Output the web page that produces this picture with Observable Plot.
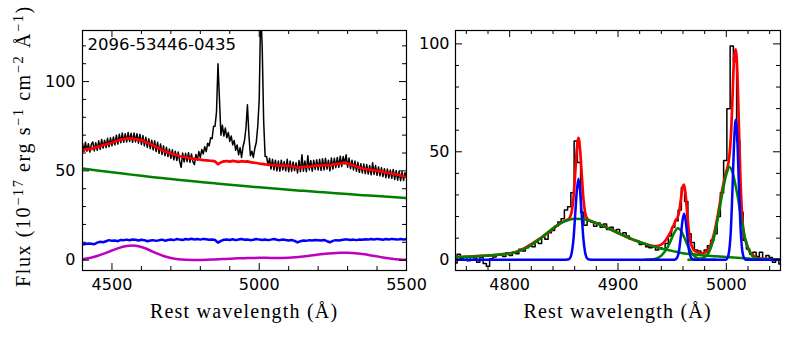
<!DOCTYPE html>
<html>
<head>
<meta charset="utf-8">
<script src="https://cdn.jsdelivr.net/npm/d3@7"></script>
<script src="https://cdn.jsdelivr.net/npm/@observablehq/plot@0.6"></script>
<style>
html,body{margin:0;padding:0;background:#fff;}
#wrap{position:relative;width:790px;height:337px;overflow:hidden;background:#fff;}
#wrap svg{position:absolute;top:0;max-width:none;}
.serif{position:absolute;left:0;top:0;font-family:"Liberation Serif",serif;color:#000;white-space:nowrap;line-height:1;font-size:20px;}
.xlab{letter-spacing:1.2px;}
.ylab{letter-spacing:1.6px;transform-origin:0 0;}
.sp{position:relative;top:-0.5em;font-size:0.72em;}
</style>
</head>
<body>
<div id="wrap"></div>
<script>
// ---------------- data ----------------
const specId = "2096-53446-0435";

// Left panel: observed spectrum, sampled every 5 Å from 4400 to 5500
const lamLeft = d3.range(4400, 5500.1, 5);
const fluxLeft = [
  65.5,60.8,66.0,61.0,65.2,60.5,64.8,66.2,61.2,65.8,
  61.5,66.8,62.0,67.5,62.8,67.2,63.0,68.2,63.5,68.5,
  64.0,69.0,64.5,70.0,65.0,70.5,65.8,71.2,66.0,70.8,
  66.2,71.5,66.5,71.0,66.0,71.2,66.2,70.8,65.5,70.5,
  64.8,69.8,64.0,68.8,63.2,68.0,62.5,67.2,61.8,66.8,
  60.8,66.0,59.8,65.0,59.2,64.0,58.5,63.2,58.0,62.2,
  57.0,61.8,56.2,61.0,55.8,60.5,55.2,52.0,60.0,55.0,
  59.8,55.2,60.2,54.8,59.5,55.0,53.5,59.2,56.0,60.8,
  57.5,62.0,59.5,63.5,60.8,65.5,64.0,68.5,68.0,75.0,
  75.0,83.0,110.0,90.0,70.0,75.5,69.5,74.0,68.5,71.5,
  66.5,69.5,64.5,67.0,61.5,64.5,59.0,63.0,57.5,63.5,
  67.0,74.0,87.0,70.0,58.5,61.0,57.5,62.5,66.0,75.0,
  90.0,140.0,120.0,78.0,58.0,58.0,53.0,57.0,51.0,56.5,
  50.5,56.0,50.0,55.5,49.8,56.0,50.5,55.2,50.0,56.5,
  49.5,55.5,49.8,55.0,50.2,54.5,48.8,55.8,49.5,59.0,
  49.8,55.5,49.5,58.5,50.5,55.8,49.8,56.0,50.8,56.2,
  50.5,56.5,50.2,56.8,50.5,57.0,51.0,56.0,50.0,57.2,
  51.0,57.0,51.8,57.5,52.0,58.2,52.5,58.0,54.0,59.0,
  52.0,57.2,51.2,56.0,50.5,55.5,49.8,54.8,49.2,54.0,
  48.8,53.8,48.5,53.5,48.2,53.0,47.8,54.5,48.0,53.0,
  47.5,52.2,47.2,51.8,46.8,51.2,46.2,51.0,46.0,50.5,
  45.8,50.8,45.2,50.2,44.8,49.8,44.5,49.5,44.6,49.0,
  46.0
];

// Left panel: model components, every 10 Å
const lamModel = d3.range(4400, 5500.1, 10);
const totalModel = [
  61.6,62.0,62.3,62.2,63.0,63.4,63.8,64.5,64.8,65.3,
  65.6,66.5,67.0,67.5,67.8,68.1,68.2,68.0,67.8,67.5,
  67.1,66.5,65.7,65.0,64.2,63.4,62.5,61.6,60.8,60.2,
  59.7,59.2,58.8,58.2,57.9,57.6,57.3,57.0,56.7,56.5,
  56.3,56.0,55.9,55.7,55.6,55.3,53.7,54.8,55.3,55.5,
  55.2,55.6,55.3,55.0,55.4,55.2,55.3,54.9,54.6,54.4,
  54.1,53.9,53.6,53.5,53.3,53.2,53.0,52.9,53.1,52.8,
  52.8,52.5,52.3,51.6,52.1,52.2,52.4,52.3,52.6,52.9,
  53.0,52.9,53.3,53.2,52.9,53.6,53.8,54.0,54.3,54.5,
  54.2,53.5,53.0,52.4,51.8,51.3,51.0,50.7,50.5,50.3,
  50.0,49.7,49.4,49.0,48.7,48.5,48.2,47.8,47.4,47.0,
  46.6
];
const feModel = [
  8.8,9.0,9.3,9.2,8.9,9.8,10.3,10.0,10.6,11.2,
  10.8,11.0,10.6,11.3,11.2,11.5,11.1,11.6,11.4,11.0,
  11.4,11.2,10.6,11.0,11.2,10.8,11.1,11.5,10.9,11.3,
  11.6,11.2,11.8,11.5,11.3,11.8,11.6,12.0,11.6,11.8,
  11.5,11.9,11.7,11.4,11.6,11.3,9.8,10.8,11.4,11.6,
  11.3,11.7,11.2,11.6,11.8,11.4,11.6,11.2,11.4,11.8,
  11.5,11.3,11.6,11.2,11.5,11.8,11.4,11.2,11.6,11.3,
  11.0,11.3,10.8,9.9,10.6,11.0,10.8,11.2,11.0,11.3,
  11.2,11.0,11.3,10.6,10.0,10.8,11.2,11.0,11.3,11.5,
  11.6,11.3,11.5,11.2,11.6,11.4,11.7,11.5,11.8,11.6,
  11.9,11.7,11.4,11.8,11.6,11.9,11.7,11.5,11.8,11.6,
  11.7
];
// power-law continuum, every 50 Å
const lamPow = d3.range(4400, 5500.1, 50);
const powModel = [51.3,50.2,49.2,48.2,47.2,46.3,45.4,44.6,43.8,43.0,42.2,41.5,
  40.8,40.1,39.4,38.8,38.2,37.6,37.0,36.4,35.9,35.3,34.8];
// host galaxy
const lamHost = [4400,4425,4450,4475,4500,4525,4550,4570,4590,4610,4630,4650,4675,4700,4725,4750,4775,
  4800,4825,4850,4875,4900,4925,4950,4975,5000,5025,5050,5075,5100,5125,5150,5175,5200,5225,5250,
  5275,5300,5325,5350,5375,5400,5425,5450,5475,5500];
const hostModel = [0.5,1.2,2.3,3.8,5.4,6.9,7.9,8.2,7.8,6.8,5.4,3.9,2.3,1.2,0.5,0.2,0.1,
  0.1,0.2,0.4,0.6,0.8,1.0,1.1,1.2,1.3,1.3,1.2,1.2,1.3,1.6,2.0,2.6,3.1,3.6,3.9,
  4.1,4.1,3.9,3.4,2.8,2.1,1.4,0.8,0.4,0.2];

// Right panel: continuum-subtracted spectrum, every 3 Å from 4750 to 5050
const lamRight = d3.range(4750, 5050.1, 3);
const fluxRight = [
  -1.5,2.5,0.5,1.5,-0.5,1.5,0.8,-1.2,1.0,-1.8,
  -3.0,0.5,1.2,2.2,2.8,1.5,3.2,2.0,3.5,2.8,
  4.8,4.0,5.5,6.5,6.0,8.2,7.5,10.5,9.5,12.5,
  13.5,15.5,17.5,19.0,23.0,24.5,31.0,55.0,45.0,22.0,
  16.0,18.0,17.5,15.5,17.0,15.0,16.5,14.0,15.0,13.5,
  14.0,12.0,12.5,11.0,9.5,9.0,8.5,7.0,7.5,6.0,
  5.5,6.0,4.5,5.5,5.0,7.5,11.0,15.0,18.0,23.0,
  33.5,27.0,12.0,8.0,4.5,4.0,3.0,4.5,6.5,9.0,
  12.0,20.0,31.0,46.0,70.0,99.0,92.0,55.0,22.0,9.0,
  5.0,2.5,3.5,1.5,3.5,0.5,2.0,1.0,-1.2,0.5,
  -2.0
];
// total line model
const lamFit = [4750,4800,4830,4845,4852,4854.5,4856,4857.5,4859,4860.5,4862,4863.5,4865,4866.5,4868,
  4869.5,4871,4872.5,4876,4880,4890,4900,4910,4920,4930,4935,4940,4944,4948,4951,4953.5,4955,4956.5,
  4958,4959.5,4961,4962.5,4964,4965.5,4967,4968.5,4970,4974,4978,4982,4984,4988,4992,4996,5000,5001.2,
  5002.7,5004.2,5005.7,5007.2,5008.7,5010.2,5011.7,5013.2,5014.7,5016.2,5018,5020,5022,5026,5030,5040,5050];
const fitModel = [1.2,2.9,10.5,16.2,18.3,18.8,20.0,22.9,29.2,40.2,51.1,56.5,50.9,39.8,28.7,
  22.4,19.5,18.6,17.7,16.9,14.8,12.4,10.1,8.2,6.6,6.3,7.0,9.0,12.3,15.6,18.5,19.5,22.4,
  27.7,33.4,34.8,29.7,20.8,12.8,8.0,5.9,4.4,3.3,3.0,3.8,5.2,10.8,20.3,31.8,41.0,43.0,
  47.6,57.0,75.0,94.0,97.5,86.0,60.0,35.0,19.5,12.0,8.5,5.5,3.5,1.5,0.6,0.3,0.1];
// broad components
const lamBroadHb = [4750,4770,4790,4800,4810,4820,4830,4840,4850,4860,4870,4880,4890,4900,4910,4920,
  4930,4940,4950,4960,4970,4980,4990,5000,5010,5020,5030,5040,5050];
const broadHb = [1.2,1.6,2.3,2.9,4.2,6.8,10.5,14.6,17.6,19.0,18.6,16.9,14.8,12.4,10.1,8.2,
  6.5,5.1,4.1,3.0,2.5,2.0,1.6,1.2,0.9,0.6,0.4,0.2,0.1];
const lamWing4959 = [4925,4930,4935,4940,4944,4948,4951,4954,4955.5,4958,4961,4964,4967,4970,4974,4980,4990];
const wing4959 = [0,0.1,0.5,1.9,4.3,8.0,11.5,14.2,14.6,13.5,10.5,7.0,4.0,1.9,0.6,0.1,0];
const lamWing5007 = [4965,4975,4980,4984,4988,4992,4996,5000,5003,5006,5010,5014,5018,5022,5026,5030,5040];
const wing5007 = [0,0.3,1.2,3.5,9.0,18.5,30.0,39.5,43.0,40.0,30.5,18.5,8.5,3.2,0.9,0.2,0];
// narrow components
const lamNarrow = [4750,4852,4854.5,4856,4857.5,4859,4860.5,4862,4863.5,4865,4866.5,4868,4869.5,4871,4872.5,4875,
  4952,4953.5,4955,4956.5,4958,4959.5,4961,4962.5,4964,4965.5,4967,4968.5,4970,
  4999.7,5001.2,5002.7,5004.2,5005.7,5007.2,5008.7,5010.2,5011.7,5013.2,5014.7,5016.2,5017.7,5050];
const narrow = [0,0,0.2,1,3.8,10,21,32,37.5,32,21,10,3.8,1,0.2,0,
  0,0.3,1.4,4.6,11,18,21.3,18,11,4.6,1.4,0.3,0,
  0,1,4.3,14,33,55,64.8,55,33,14,4.3,1,0,0];

// ticks
const xMajL = [4500, 5000, 5500], xMinL = [4600,4700,4800,4900,5100,5200,5300,5400];
const xMajR = [4800, 4900, 5000], xMinR = [4760,4780,4820,4840,4860,4880,4920,4940,4960,4980,5020,5040];
const yMaj = [0, 50, 100];
const yMinL = [10,20,30,40,60,70,80,90,110,120], yMinR = [10,20,30,40,60,70,80,90];

// ---------------- drawing ----------------
const pts = (xs, ys) => xs.map((x, i) => ({x, y: ys[i]}));
const H = 337, MT = 30, MB = 67, FH = H - MT - MB;
const black = "#000000", red = "#ff0000", green = "#008000", blue = "#0000ff", magenta = "#bf00bf";
const fmt = d => String(d);

function frameTicks(xMaj, xMin, yMaj, yMin, FW) {
  const out = [];
  for (const [xs, len] of [[xMaj, 7], [xMin, 4]]) {
    out.push(Plot.tickX(xs, {x: d => d, insetTop: FH - len, stroke: black, strokeWidth: 1}));
    out.push(Plot.tickX(xs, {x: d => d, insetBottom: FH - len, stroke: black, strokeWidth: 1}));
  }
  for (const [ys, len] of [[yMaj, 7], [yMin, 4]]) {
    out.push(Plot.tickY(ys, {y: d => d, insetRight: FW - len, stroke: black, strokeWidth: 1}));
    out.push(Plot.tickY(ys, {y: d => d, insetLeft: FW - len, stroke: black, strokeWidth: 1}));
  }
  return out;
}
const styleObj = {background: "transparent", overflow: "visible", fontFamily: "DejaVu Sans", fontSize: "16px", color: "#000"};

const leftPlot = Plot.plot({
  width: 410, height: H, marginLeft: 82, marginRight: 4, marginTop: MT, marginBottom: MB,
  x: {domain: [4400, 5500], label: null},
  y: {domain: [-5.8, 128.6], label: null},
  style: styleObj,
  marks: [
    Plot.line(pts(lamLeft, fluxLeft), {x: "x", y: "y", stroke: black, strokeWidth: 1.5, clip: true}),
    Plot.line(pts(lamModel, totalModel), {x: "x", y: "y", stroke: red, strokeWidth: 2.7, clip: true}),
    Plot.line(pts(lamPow, powModel), {x: "x", y: "y", curve: "natural", stroke: green, strokeWidth: 2.5, clip: true}),
    Plot.line(pts(lamModel, feModel), {x: "x", y: "y", stroke: blue, strokeWidth: 2.5, clip: true}),
    Plot.line(pts(lamHost, hostModel), {x: "x", y: "y", curve: "natural", stroke: magenta, strokeWidth: 2.5, clip: true}),
    ...frameTicks(xMajL, xMinL, yMaj, yMinL, 324),
    Plot.axisX(xMajL, {anchor: "bottom", tickSize: 0, tickPadding: 8, label: null, fontSize: 16, tickFormat: fmt}),
    Plot.axisY(yMaj, {anchor: "left", tickSize: 0, tickPadding: 7, label: null, fontSize: 16, tickFormat: fmt}),
    Plot.frame({stroke: black, strokeWidth: 1.2}),
    Plot.text([specId], {text: d => d, frameAnchor: "top-left", dx: 5, dy: 8, fontSize: 16.5, fill: black})
  ]
});
leftPlot.style.left = "0px";
wrap.appendChild(leftPlot);

const broadTable = [
  ...pts(lamBroadHb, broadHb).map(d => ({...d, c: "Hb"})),
  ...pts(lamWing4959, wing4959).map(d => ({...d, c: "4959"})),
  ...pts(lamWing5007, wing5007).map(d => ({...d, c: "5007"}))
];
const rightPlot = Plot.plot({
  width: 380, height: H, marginLeft: 45, marginRight: 10, marginTop: MT, marginBottom: MB,
  x: {domain: [4750, 5050], label: null},
  y: {domain: [-5, 106.2], label: null},
  style: styleObj,
  marks: [
    Plot.line(pts(lamRight, fluxRight), {x: "x", y: "y", curve: "step", stroke: black, strokeWidth: 1.5, clip: true}),
    Plot.line(pts(lamFit, fitModel), {x: "x", y: "y", curve: "monotone-x", stroke: red, strokeWidth: 2.7, clip: true}),
    Plot.line(broadTable, {x: "x", y: "y", z: "c", curve: "monotone-x", stroke: green, strokeWidth: 2.5, clip: true}),
    Plot.line(pts(lamNarrow, narrow), {x: "x", y: "y", curve: "monotone-x", stroke: blue, strokeWidth: 2.5, clip: true}),
    ...frameTicks(xMajR, xMinR, yMaj, yMinR, 325),
    Plot.axisX(xMajR, {anchor: "bottom", tickSize: 0, tickPadding: 8, label: null, fontSize: 16, tickFormat: fmt}),
    Plot.axisY(yMaj, {anchor: "left", tickSize: 0, tickPadding: 6, label: null, fontSize: 16, tickFormat: fmt}),
    Plot.frame({stroke: black, strokeWidth: 1.2})
  ]
});
rightPlot.style.left = "410px";
wrap.appendChild(rightPlot);

// axis titles (serif, like the reference)
function xTitle(cx) {
  const d = document.createElement("div");
  d.className = "serif xlab";
  d.textContent = "Rest wavelength (Å)";
  wrap.appendChild(d);
  d.style.left = (cx - d.offsetWidth / 2) + "px";
  d.style.top = "301px";
}
xTitle(244);
xTitle(617.5);

const yl = document.createElement("div");
yl.className = "serif ylab";
yl.innerHTML = 'Flux (10<span class="sp">−17</span> erg s<span class="sp">−1</span> cm<span class="sp">−2</span> Å<span class="sp">−1</span>)';
wrap.appendChild(yl);
const w = yl.offsetWidth;
yl.style.transform = `translate(${30 - 16.75}px, ${146 + w / 2}px) rotate(-90deg)`;
</script>
</body>
</html>
